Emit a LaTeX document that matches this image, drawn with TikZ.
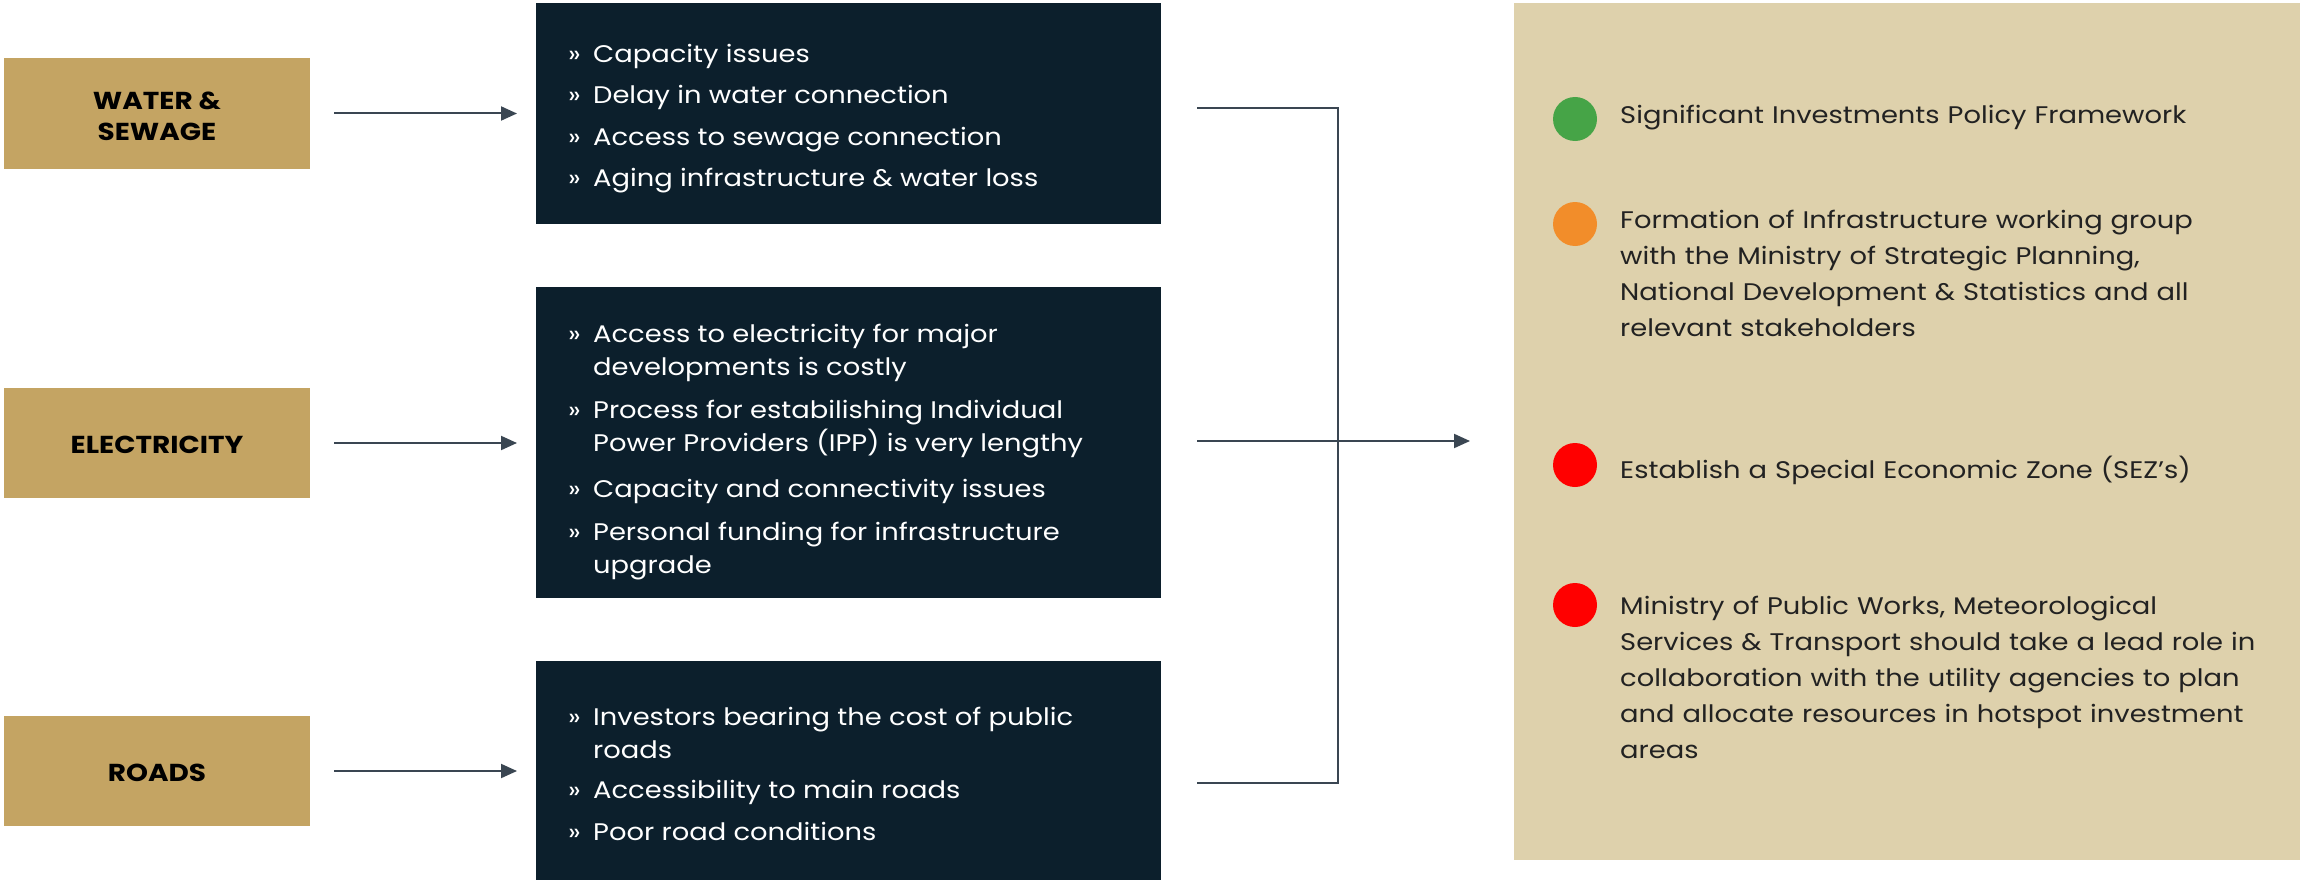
\documentclass[tikz,border=0pt]{standalone}
\usepackage{fontspec}
\setmainfont{Poppins}[FakeStretch=1.14]
\usetikzlibrary{arrows.meta,calc}
\definecolor{gold}{HTML}{C4A463}
\definecolor{navy}{HTML}{0C1F2C}
\definecolor{panel}{HTML}{DED1AC}
\definecolor{linec}{HTML}{3A4652}
\definecolor{dotgreen}{HTML}{46A447}
\definecolor{dotorange}{HTML}{F28D2A}
\definecolor{dotred}{HTML}{FF0000}
\definecolor{ptext}{HTML}{222222}
\newcommand\itmtxt[1]{\makebox[25pt][l]{»}\parbox[t]{580pt}{#1}}
\begin{document}
\begin{tikzpicture}[x=1pt,y=-1pt,
  goldbox/.style={fill=gold, minimum width=306pt, minimum height=110pt, inner sep=0pt},
  goldlabel/.style={align=center, text=black, inner sep=0pt, font=\bfseries\fontsize{24.5}{31}\selectfont},
  darkbox/.style={fill=navy, inner sep=0pt, anchor=north west, minimum width=625pt},
  itm/.style={anchor=base west, inner sep=0pt, text=white, font=\fontsize{24}{33}\selectfont},
  ptxt/.style={anchor=base west, inner sep=0pt, text width=670pt, text=ptext, font=\fontsize{24}{36}\selectfont},
  dot/.style={circle, minimum size=44pt, inner sep=0pt},
  conn/.style={draw=linec, line width=2pt},
  arr/.style={conn, -{Triangle[length=16pt,width=14pt]}}]
\useasboundingbox (0,0) rectangle (2306,880);
% gold boxes
\node[goldbox] (g1) at (157,113.5) {};
\node[goldbox] (g2) at (157,443) {};
\node[goldbox] (g3) at (157,771) {};
\node[goldlabel] (l1) at ([yshift=-3pt]g1.center) {WATER \&\\SEWAGE};
\node[goldlabel] (l2) at ([yshift=-2pt]g2.center) {ELECTRICITY};
\node[goldlabel] (l3) at ([yshift=-2pt]g3.center) {ROADS};
% dark boxes
\node[darkbox, minimum height=221pt] (d1) at (536,3) {};
\node[darkbox, minimum height=311pt] (d2) at (536,287) {};
\node[darkbox, minimum height=219pt] (d3) at (536,661) {};
% items of box 1
\node[itm] (a1) at (568,63) {\itmtxt{Capacity issues}};
\node[itm] (a2) at (568,104) {\itmtxt{Delay in water connection}};
\node[itm] (a3) at (568,145) {\itmtxt{Access to sewage connection}};
\node[itm] (a4) at (568,186) {\itmtxt{Aging infrastructure \& water loss}};
% items of box 2
\node[itm] (b1i) at (568,342) {\itmtxt{Access to electricity for major\\developments is costly}};
\node[itm] (b2i) at (568,418) {\itmtxt{Process for estabilishing Individual\\Power Providers (IPP) is very lengthy}};
\node[itm] (b3i) at (568,497) {\itmtxt{Capacity and connectivity issues}};
\node[itm] (b4i) at (568,540) {\itmtxt{Personal funding for infrastructure\\upgrade}};
% items of box 3
\node[itm] (c1i) at (568,725) {\itmtxt{Investors bearing the cost of public\\roads}};
\node[itm] (c2i) at (568,798) {\itmtxt{Accessibility to main roads}};
\node[itm] (c3i) at (568,840) {\itmtxt{Poor road conditions}};
% left arrows
\draw[arr] ([xshift=24pt]g1.east) -- ([xshift=-19pt]g1.east -| d1.west);
\draw[arr] ([xshift=24pt]g2.east) -- ([xshift=-19pt]g2.east -| d2.west);
\draw[arr] ([xshift=24pt]g3.east) -- ([xshift=-19pt]g3.east -| d3.west);
% right panel
\node[fill=panel, inner sep=0pt, anchor=north west, minimum width=786pt, minimum height=857pt] (p) at (1514,3) {};
% connectors
\coordinate (c1) at (1197,108);
\coordinate (c2) at (1197,441);
\coordinate (c3) at (1197,783);
\coordinate (v1) at (1338,108);
\coordinate (v3) at (1338,783);
\coordinate (e) at (1470,441);
\draw[conn] (c1) -- (v1) -- (v3) -- (c3);
\draw[arr] (c2) -- (e);
% bullets
\node[dot, fill=dotgreen] (b1) at (1575,119) {};
\node[dot, fill=dotorange] (b2) at (1575,224) {};
\node[dot, fill=dotred] (b3) at (1575,465) {};
\node[dot, fill=dotred] (b4) at (1575,605) {};
\node[ptxt] (r1) at (1620,124) {Significant Investments Policy Framework};
\node[ptxt] (r2) at (1620,228) {Formation of Infrastructure working group\\with the Ministry of Strategic Planning,\\National Development \& Statistics and all\\relevant stakeholders};
\node[ptxt] (r3) at (1620,478) {Establish a Special Economic Zone (SEZ’s)};
\node[ptxt] (r4) at (1620,614) {Ministry of Public Works, Meteorological\\Services \& Transport should take a lead role in\\collaboration with the utility agencies to plan\\and allocate resources in hotspot investment\\areas};
\end{tikzpicture}
\end{document}
